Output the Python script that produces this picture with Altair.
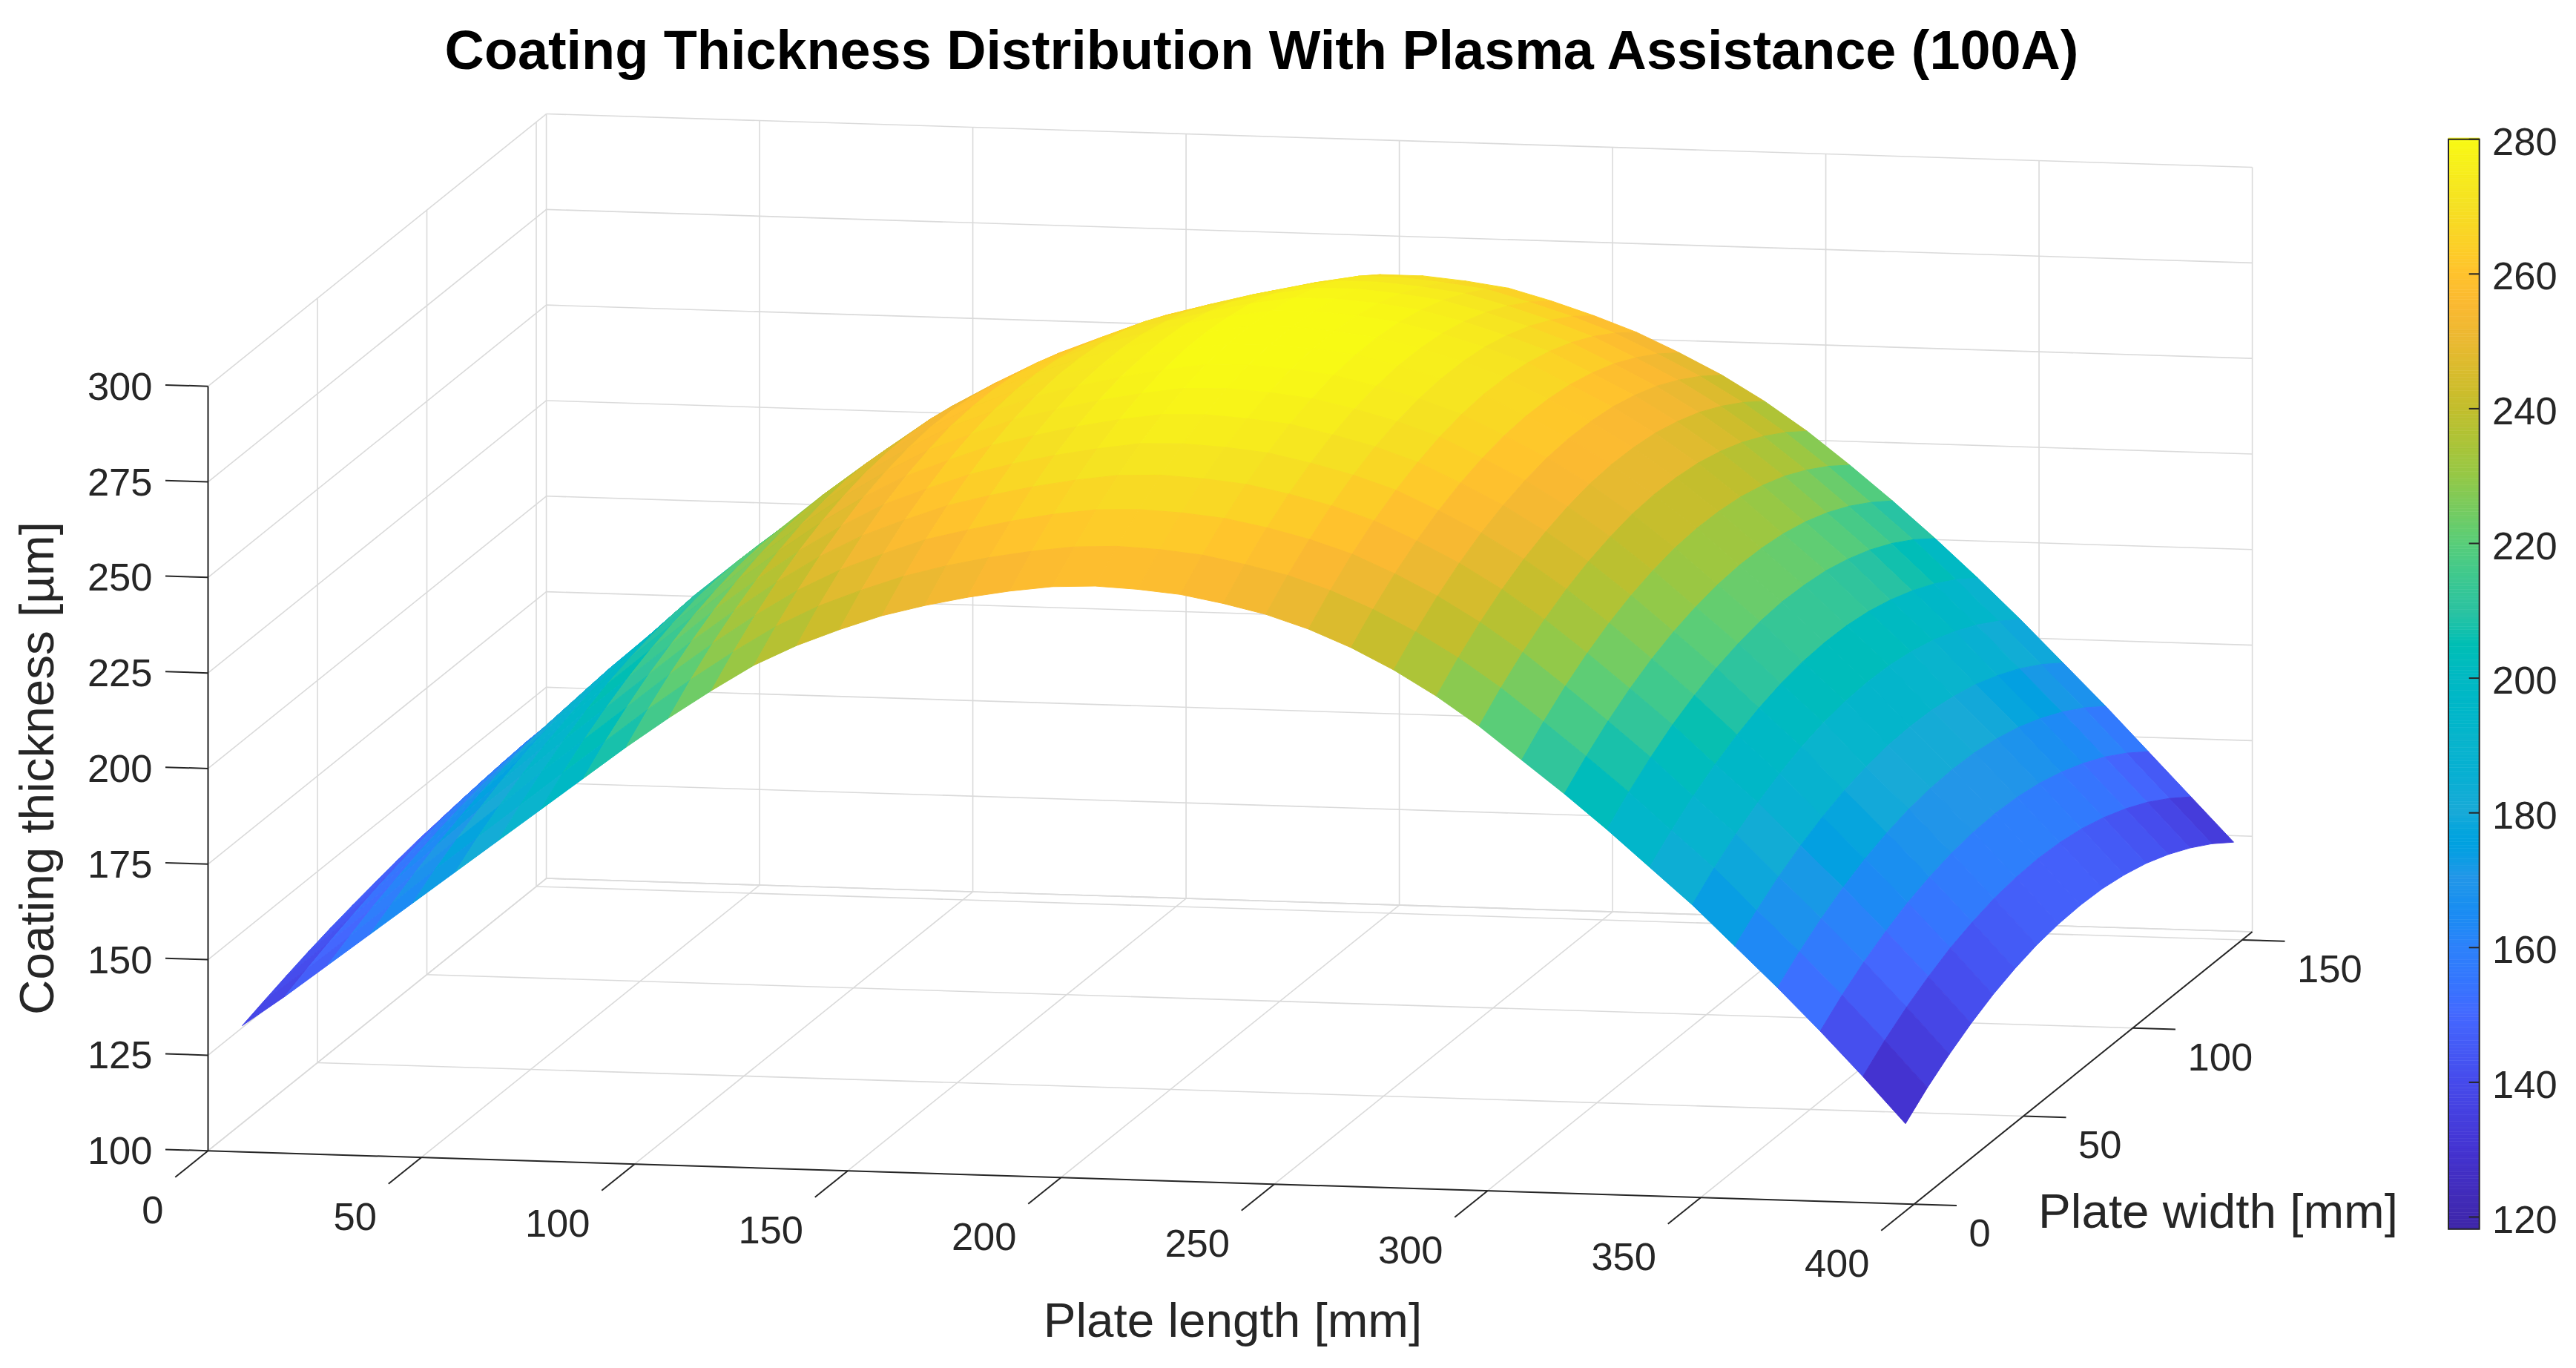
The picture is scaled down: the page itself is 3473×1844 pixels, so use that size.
import altair as alt

TITLE = "Coating Thickness Distribution With Plasma Assistance (100A)"
X_LABEL = "Plate length [mm]"
Y_LABEL = "Plate width [mm]"
Z_LABEL = "Coating thickness [µm]"

x_ticks = [0, 50, 100, 150, 200, 250, 300, 350, 400]
y_ticks = [0, 50, 100, 150]
z_ticks = [100, 125, 150, 175, 200, 225, 250, 275, 300]
cb_ticks = [120, 140, 160, 180, 200, 220, 240, 260, 280]
x_lim = [0, 400]
y_lim = [0, 154.6]
z_lim = [100, 300]

plate_x = [8, 18, 28, 38, 48, 58, 68, 78, 88, 98, 108, 118, 128, 138, 148, 158, 168, 178, 188, 198,
           208, 218, 228, 238, 248, 258, 268, 278, 288, 298, 308, 318, 328, 338, 348, 358, 368, 378, 388, 398]
plate_y = [0, 10, 20, 30, 40, 50, 60, 70, 80, 90, 100, 110, 120, 130, 140, 150]

# thickness per plate_x row, across plate_y
thickness = [
    [133, 134.9, 136.7, 138.4, 139.9, 141.2, 142.4, 143.5, 144.5, 145.2, 145.9, 146.4, 146.8, 147.0, 147.1, 147],
    [141, 143.5, 145.8, 147.8, 149.7, 151.3, 152.8, 154, 155, 155.8, 156.3, 156.7, 156.8, 156.8, 156.5, 156],
    [149.5, 152.4, 155.1, 157.4, 159.5, 161.3, 162.8, 164, 164.9, 165.6, 165.9, 166, 165.8, 165.3, 164.6, 163.5],
    [158, 161.4, 164.5, 167.2, 169.5, 171.6, 173.2, 174.5, 175.5, 176, 176.2, 176.1, 175.6, 174.7, 173.6, 172],
    [166.5, 170.5, 173.9, 177, 179.7, 181.8, 183.6, 185, 185.9, 186.4, 186.5, 186.1, 185.4, 184.2, 182.5, 180.5],
    [175, 179.3, 183, 186.3, 189.2, 191.5, 193.4, 194.8, 195.6, 196.1, 196, 195.5, 194.4, 192.9, 191, 188.5],
    [183.5, 188.1, 192.3, 195.9, 198.9, 201.5, 203.5, 204.9, 205.9, 206.3, 206.1, 205.5, 204.3, 202.5, 200.3, 197.5],
    [192, 196.9, 201.2, 204.9, 208.1, 210.7, 212.8, 214.3, 215.1, 215.5, 215.3, 214.4, 213, 211.1, 208.6, 205.5],
    [200.5, 205.6, 210, 213.9, 217.1, 219.8, 221.8, 223.3, 224.1, 224.3, 223.9, 223, 221.4, 219.2, 216.4, 213],
    [209, 214.3, 218.9, 222.9, 226.3, 229, 231.1, 232.5, 233.3, 233.5, 233, 231.9, 230.1, 227.7, 224.7, 221],
    [217, 222.4, 227.2, 231.2, 234.6, 237.5, 239.6, 241, 241.9, 242, 241.4, 240.3, 238.4, 235.9, 232.8, 229],
    [224.5, 230, 234.9, 239.1, 242.6, 245.4, 247.5, 249, 249.8, 249.9, 249.4, 248.2, 246.3, 243.7, 240.4, 236.5],
    [231.5, 237, 241.9, 246.1, 249.5, 252.4, 254.4, 255.8, 256.6, 256.5, 255.8, 254.5, 252.4, 249.6, 246.2, 242],
    [237, 242.7, 247.6, 251.9, 255.5, 258.3, 260.4, 261.9, 262.5, 262.5, 261.8, 260.3, 258.2, 255.4, 251.8, 247.5],
    [241.5, 247.2, 252.1, 256.4, 259.9, 262.8, 264.9, 266.3, 267, 267, 266.3, 264.8, 262.7, 259.8, 256.3, 252],
    [245.5, 251.2, 256.2, 260.5, 264, 267, 269.1, 270.5, 271.3, 271.3, 270.6, 269.2, 267.1, 264.2, 260.8, 256.5],
    [248.5, 254.3, 259.1, 263.5, 267.1, 269.9, 272.1, 273.6, 274.2, 274.3, 273.6, 272.1, 270.1, 267.3, 263.7, 259.5],
    [251, 256.8, 261.7, 266.1, 269.7, 272.6, 274.8, 276.3, 277, 277.1, 276.5, 275, 272.9, 270.2, 266.7, 262.5],
    [253, 258.8, 263.9, 268.2, 271.8, 274.8, 277, 278.5, 279.4, 279.4, 278.7, 277.5, 275.4, 272.6, 269.2, 265],
    [254.5, 260.3, 265.4, 269.8, 273.5, 276.5, 278.7, 280.3, 281.1, 281.2, 280.6, 279.3, 277.3, 274.6, 271.2, 267],
    [255, 260.8, 265.8, 270.2, 273.8, 276.8, 279, 280.5, 281.3, 281.4, 280.8, 279.4, 277.4, 274.6, 271.2, 267],
    [254.5, 260.3, 265.3, 269.6, 273.2, 276.1, 278.3, 279.8, 280.6, 280.6, 280, 278.6, 276.5, 273.7, 270.2, 266],
    [253.5, 259.2, 264.2, 268.5, 272.1, 275, 277.1, 278.6, 279.3, 279.3, 278.6, 277.2, 275.1, 272.3, 268.8, 264.5],
    [251.5, 257.1, 262.1, 266.3, 269.8, 272.6, 274.7, 276.1, 276.8, 276.7, 276, 274.5, 272.3, 269.4, 265.8, 261.5],
    [249, 254.6, 259.4, 263.6, 267, 269.8, 271.8, 273.1, 273.7, 273.6, 272.8, 271.2, 269, 266, 262.4, 258],
    [245.5, 251, 255.9, 260, 263.4, 266.1, 268.1, 269.4, 270, 269.8, 269, 267.4, 265.1, 262.1, 258.4, 254],
    [241, 246.4, 251.1, 255.1, 258.4, 261, 262.9, 264.2, 264.7, 264.5, 263.7, 262.1, 259.9, 256.9, 253.3, 249],
    [235.5, 240.9, 245.6, 249.6, 252.9, 255.5, 257.4, 258.7, 259.2, 259, 258.2, 256.6, 254.4, 251.4, 247.8, 243.5],
    [229, 234.4, 239.1, 243.1, 246.4, 249, 250.9, 252.2, 252.7, 252.5, 251.7, 250.1, 247.9, 244.9, 241.3, 237],
    [221.5, 226.9, 231.6, 235.6, 238.9, 241.5, 243.4, 244.7, 245.2, 245, 244.2, 242.6, 240.4, 237.4, 233.8, 229.5],
    [213, 218.4, 223.1, 227.1, 230.4, 233, 234.9, 236.2, 236.7, 236.5, 235.7, 234.1, 231.9, 228.9, 225.3, 221],
    [204.5, 209.7, 214.3, 218.2, 221.4, 223.9, 225.7, 226.9, 227.4, 227.2, 226.4, 224.9, 222.7, 219.8, 216.2, 212],
    [195.5, 200.7, 205.2, 209.1, 212.2, 214.7, 216.5, 217.7, 218.2, 217.9, 217.1, 215.5, 213.3, 210.4, 206.8, 202.5],
    [186, 191, 195.4, 199.1, 202.2, 204.6, 206.4, 207.5, 207.9, 207.7, 206.8, 205.2, 203, 200.2, 196.7, 192.5],
    [176.5, 181.5, 185.8, 189.4, 192.4, 194.8, 196.5, 197.5, 197.9, 197.6, 196.6, 195, 192.7, 189.8, 186.2, 182],
    [166, 170.8, 175, 178.5, 181.4, 183.7, 185.3, 186.3, 186.6, 186.3, 185.3, 183.8, 181.5, 178.7, 175.2, 171],
    [155.5, 160.3, 164.4, 167.9, 170.8, 173, 174.6, 175.5, 175.8, 175.5, 174.5, 172.9, 170.6, 167.7, 164.2, 160],
    [144.5, 149.3, 153.4, 156.8, 159.7, 161.8, 163.4, 164.3, 164.6, 164.2, 163.2, 161.5, 159.2, 156.3, 152.7, 148.5],
    [133, 137.8, 141.9, 145.3, 148.2, 150.3, 151.9, 152.8, 153.1, 152.7, 151.7, 150, 147.7, 144.8, 141.2, 137],
    [121, 125.8, 129.9, 133.4, 136.3, 138.5, 140.1, 141, 141.3, 141, 140, 138.4, 136.1, 133.2, 129.7, 125.5],
]

color_stops = [118, 130, 140, 150, 160, 170, 180, 190, 200, 210, 220, 230, 240, 250, 255, 260, 270, 280]
color_values = ["#3e26a8", "#4434d2", "#464bec", "#4469ff", "#2d82fa", "#2396e8", "#19aad7", "#0ab4cd",
                "#02b9c3", "#2dc3a0", "#5acd78", "#96c846", "#c3be2d", "#ebb932", "#fab932", "#ffc32d",
                "#f5e123", "#f8fa14"]

INK = "#262626"
GRID = "#dadada"
FONT = "Liberation Sans"
W, H = 3457, 1828

# Orthographic view of the 3D box, in page pixels
U0, V0 = 280.5, 1551.2
AX, AY = 5.75, 2.95
BX, BY, CZ = 0.18, -2.375, -5.1525


def proj(x, y, z):
    return U0 + AX * x + AY * y, V0 + BX * x + BY * y + CZ * (z - 100)


def seg(rows, a, b, name):
    for k, p in enumerate((a, b)):
        u, v = proj(*p)
        rows.append({"u": u, "v": v, "k": k, "id": name})


grid_rows = []
for z in z_ticks:
    seg(grid_rows, (0, 0, z), (0, y_lim[1], z), f"lz{z}")
    seg(grid_rows, (0, y_lim[1], z), (400, y_lim[1], z), f"bz{z}")
for x in x_ticks:
    seg(grid_rows, (x, y_lim[1], 100), (x, y_lim[1], 300), f"bx{x}")
    seg(grid_rows, (x, 0, 100), (x, y_lim[1], 100), f"fx{x}")
for y in y_ticks:
    seg(grid_rows, (0, y, 100), (0, y, 300), f"ly{y}")
    seg(grid_rows, (0, y, 100), (400, y, 100), f"fy{y}")
seg(grid_rows, (0, y_lim[1], 100), (400, y_lim[1], 100), "floorback")

axis_rows = []
seg(axis_rows, (0, 0, 100), (400, 0, 100), "xaxis")
seg(axis_rows, (400, 0, 100), (400, y_lim[1], 100), "yaxis")
seg(axis_rows, (0, 0, 100), (0, 0, 300), "zaxis")
for x in x_ticks:
    seg(axis_rows, (x, 0, 100), (x, -15, 100), f"tx{x}")
for y in y_ticks:
    seg(axis_rows, (400, y, 100), (410, y, 100), f"ty{y}")
for z in z_ticks:
    seg(axis_rows, (0, 0, z), (-10, 0, z), f"tz{z}")

# surface patches, painted from the back towards the viewer
surface_rows = []
cell = 0
for i in range(len(plate_x) - 1):
    for j in range(len(plate_y) - 2, -1, -1):
        corners = [(i, j), (i + 1, j), (i + 1, j + 1), (i, j + 1), (i, j)]
        zc = sum(thickness[a][b] for a, b in corners[:4]) / 4
        for k, (a, b) in enumerate(corners):
            u, v = proj(plate_x[a], plate_y[b], thickness[a][b])
            surface_rows.append({"u": u, "v": v, "k": k, "id": cell, "zc": zc})
        cell += 1

U = alt.X("u:Q", scale=alt.Scale(domain=[8, 8 + W], nice=False, zero=False), axis=None)
V = alt.Y("v:Q", scale=alt.Scale(domain=[8 + H, 8], nice=False, zero=False), axis=None)
color_scale = alt.Scale(domain=color_stops, range=color_values, clamp=True)

grid = alt.Chart(alt.Data(values=grid_rows)).mark_line(color=GRID, strokeWidth=1.6).encode(
    x=U, y=V, detail="id:N", order="k:Q")
axes = alt.Chart(alt.Data(values=axis_rows)).mark_line(color=INK, strokeWidth=2).encode(
    x=U, y=V, detail="id:N", order="k:Q")
surface = alt.Chart(alt.Data(values=surface_rows)).mark_line(strokeWidth=1, strokeJoin="round").encode(
    x=U, y=V, detail="id:N", order="k:Q",
    fill=alt.Fill("zc:Q", scale=color_scale, legend=None),
    stroke=alt.Stroke("zc:Q", scale=color_scale, legend=None))

# colour bar
CB_L, CB_R, CB_B, CB_120, CB_PX = 3301, 3342.7, 1656.6, 1640.5, 9.08


def cb_y(z):
    return CB_120 - (z - 120) * CB_PX


cb_levels = [118.2 + 0.5 * n for n in range(324)]
cb_rows = [{"u": CB_L, "u2": CB_R, "v": cb_y(z), "v2": cb_y(z + 0.5), "z": z} for z in cb_levels]
cb_bar = alt.Chart(alt.Data(values=cb_rows)).mark_rect(strokeWidth=0.6).encode(
    x=U, x2="u2:Q", y=V, y2="v2:Q",
    fill=alt.Fill("z:Q", scale=color_scale, legend=None),
    stroke=alt.Stroke("z:Q", scale=color_scale, legend=None))
cb_box = alt.Chart(alt.Data(values=[{"u": CB_L, "u2": CB_R, "v": cb_y(118.2), "v2": cb_y(280)}])).mark_rect(
    fill=None, stroke=INK, strokeWidth=2).encode(x=U, x2="u2:Q", y=V, y2="v2:Q")
cb_tick_rows = []
for z in cb_ticks:
    cb_tick_rows.append({"u": CB_R - 14, "v": cb_y(z), "k": 0, "id": z})
    cb_tick_rows.append({"u": CB_R, "v": cb_y(z), "k": 1, "id": z})
cb_tick_marks = alt.Chart(alt.Data(values=cb_tick_rows)).mark_line(color=INK, strokeWidth=2).encode(
    x=U, y=V, detail="id:N", order="k:Q")


def text_layer(rows, size, align, weight="normal", color=INK, angle=0):
    return alt.Chart(alt.Data(values=rows)).mark_text(
        font=FONT, fontSize=size, align=align, baseline="alphabetic",
        fontWeight=weight, color=color, angle=angle).encode(x=U, y=V, text="t:N")


x_text = [{"u": proj(x, 0, 100)[0] - 60, "v": proj(x, 0, 100)[1] + 98, "t": str(x)} for x in x_ticks]
y_text = [{"u": proj(400, y, 100)[0] + 74, "v": proj(400, y, 100)[1] + 57, "t": str(y)} for y in y_ticks]
z_text = [{"u": proj(0, 0, z)[0] - 75, "v": proj(0, 0, z)[1] + 18, "t": str(z)} for z in z_ticks]
cb_text = [{"u": 3360, "v": cb_y(z) + 21, "t": str(z)} for z in cb_ticks]

layers = [
    grid, surface, axes, cb_bar, cb_box, cb_tick_marks,
    text_layer(x_text, 52.5, "right"),
    text_layer(y_text, 52.5, "left"),
    text_layer(z_text, 52.5, "right"),
    text_layer(cb_text, 52.5, "left"),
    text_layer([{"u": 1662, "v": 1802, "t": X_LABEL}], 65.6, "center"),
    text_layer([{"u": 2990.5, "v": 1654.5, "t": Y_LABEL}], 65.6, "center"),
    text_layer([{"u": 72, "v": 1035.5, "t": Z_LABEL}], 65.6, "center", angle=270),
    text_layer([{"u": 1701, "v": 93, "t": TITLE}], 73.8, "center", weight="bold", color="#000000"),
]

chart = alt.layer(*layers).resolve_scale(fill="shared", stroke="shared").properties(
    width=W, height=H, padding=0, autosize="none", background="white"
).configure_view(stroke=None)

chart.save("out.html", embed_options={"renderer": "svg", "actions": False})
